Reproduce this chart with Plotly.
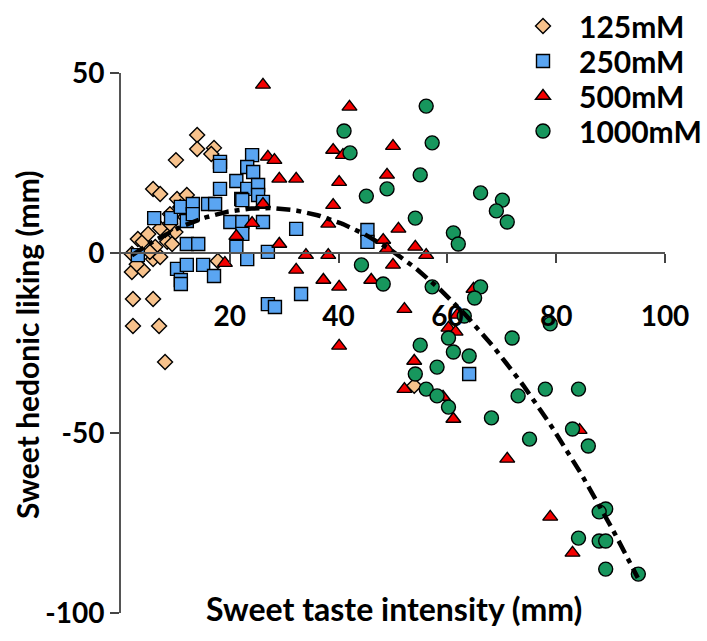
import numpy as np
import plotly.graph_objects as go

# ---- data ----
x_125 = [14.0, 14.0, 17.1, 10.1, 16.6, 5.9, 7.2, 10.3, 12.1, 10.9, 9.0, 11.8, 3.1, 4.0, 2.0, 2.0, 4.0,
         5.9, 7.2, 8.5, 9.4, 10.0, 8.1, 6.3, 2.2, 5.9, 2.2, 7.0, 8.1, 17.8, 53.9, 5.0, 7.2, 9.0, 5.3, 2.9]
y_125 = [32.8, 28.9, 29.2, 25.8, 27.5, 17.8, 16.4, 15.0, 16.1, 12.8, 10.8, 10.0, 3.9, 3.1, -0.3, -5.3, -4.7,
         -1.7, -1.1, 3.1, 2.5, 5.8, 6.4, 1.7, -12.8, -12.8, -20.3, -20.3, -30.3, -2.2, -36.9, 5.3, 6.9, 8.1, 0.3, -3.1]

x_250 = [3.1, 6.1, 9.2, 11.0, 12.1, 13.2, 16.0, 17.3, 12.1, 14.2, 10.3, 12.1, 11.0, 11.0, 15.1, 17.1,
         18.2, 18.2, 18.2, 21.2, 23.2, 22.1, 24.1, 23.2, 24.3, 25.2, 25.2, 22.3, 26.1, 20.1, 22.3, 22.3,
         26.1, 21.2, 23.2, 27.0, 32.2, 27.0, 28.3, 33.1, 45.3, 45.3, 64.0, 13.2]
y_250 = [-0.6, 9.7, 9.7, 12.8, 8.9, 13.6, 13.6, 13.6, 2.5, 2.5, -4.4, -3.3, -7.5, -8.6, -3.3, -6.4,
         25.3, 24.2, 17.8, 20.0, 17.8, 15.0, 27.2, 23.9, 22.5, 18.9, 16.1, 14.7, 14.2, 8.6, 8.6, 5.3,
         8.6, 1.7, -1.7, 0.3, 6.7, -14.2, -15.0, -11.4, 6.4, 3.1, -33.6, 10.8]

x_500 = [26.1, 27.0, 28.2, 29.1, 32.2, 26.1, 24.1, 21.2, 29.1, 34.0, 19.1, 32.2, 42.0, 39.0, 40.8, 50.0,
         40.1, 48.9, 39.0, 38.1, 51.0, 48.2, 48.9, 54.1, 56.1, 38.1, 50.0, 37.2, 40.1, 46.0, 52.1, 40.1,
         53.9, 52.1, 60.2, 61.5, 61.1, 59.2, 64.8, 61.8, 71.0, 84.3, 78.9, 83.0]
y_500 = [46.7, 26.7, 25.8, 20.6, 20.6, 13.6, 8.3, 4.7, 2.5, -0.6, -2.8, -4.7, 40.6, 28.6, 27.2, 29.7,
         19.7, 21.7, 13.3, 8.1, 6.7, 3.6, 1.1, 1.7, -0.6, -0.6, -3.3, -7.5, -9.4, -7.5, -15.6, -25.8,
         -30.0, -37.8, -20.8, -21.9, -46.1, -40.0, -10.0, -17.2, -57.2, -49.2, -73.3, -83.3]

x_1000 = [56.1, 57.2, 41.0, 42.1, 55.0, 48.9, 45.1, 54.1, 66.1, 70.1, 69.0, 71.0, 61.1, 62.0, 44.2, 48.2,
          57.2, 66.1, 65.0, 63.1, 60.2, 55.0, 61.1, 64.0, 58.1, 54.1, 56.1, 58.1, 60.2, 68.1, 78.9, 71.9,
          78.0, 84.1, 73.0, 83.0, 75.1, 85.9, 89.1, 87.9, 84.1, 87.9, 89.1, 89.1, 95.1]
y_1000 = [40.8, 30.6, 33.9, 27.8, 21.7, 17.8, 15.8, 9.7, 16.7, 14.7, 11.7, 8.6, 5.6, 2.5, -3.3, -8.6,
          -9.4, -9.4, -12.5, -17.5, -23.6, -25.6, -27.5, -28.6, -31.7, -33.6, -37.8, -39.7, -42.8, -45.8, -19.7, -23.6,
          -37.8, -37.8, -39.7, -48.9, -51.7, -53.6, -71.1, -71.9, -79.2, -80.0, -80.0, -87.8, -89.2]

# quadratic fit: y = a*x^2 + b*x + c
fit_coeffs = [-0.0219, 1.161, -2.88]
fit_x_range = [2.0, 95.0]

x_ticks = [20, 40, 60, 80, 100]
y_ticks = [-100, -50, 0, 50]
series_names = ["125mM", "250mM", "500mM", "1000mM"]

FONT = "Lato"
BOLD = dict(family=FONT, size=28, color="black", weight="bold")

# plot area in pixels (fixed margins)
L, R, T, B, W, H = 121, 42, 73, 28, 707, 641
PW, PH = W - L - R, H - T - B

fig = go.Figure()

styles = [
    ("diamond", 11.5, "#F7C28C"),
    ("square", 13, "#5AA5F2"),
    ("triangle-up", 13, "#F40000"),
    ("circle", 14, "#17965D"),
]
xs_all = [x_125, x_250, x_500, x_1000]
ys_all = [y_125, y_250, y_500, y_1000]
legend_ids = ["legend", "legend2", "legend3", "legend4"]
for name, xs, ys, (sym, size, col), lid in zip(series_names, xs_all, ys_all, styles, legend_ids):
    fig.add_trace(go.Scatter(
        x=xs, y=ys, mode="markers", name=name, legend=lid,
        marker=dict(symbol=sym, size=size, color=col, line=dict(color="black", width=1.4)),
        cliponaxis=False,
    ))

fx = np.linspace(fit_x_range[0], fit_x_range[1], 200)
fy = np.polyval(fit_coeffs, fx)
fig.add_trace(go.Scatter(
    x=fx, y=fy, mode="lines", showlegend=False,
    line=dict(color="black", width=4.5, dash="14px,6px,5px,6px"),
    cliponaxis=False,
))

legend_rows_px = [26, 61, 96, 131]
legend_left_px = 507
legends = {}
for lid, py in zip(legend_ids, legend_rows_px):
    legends[lid] = dict(
        x=(legend_left_px - L) / PW, y=1 + (T - py) / PH, xanchor="left", yanchor="middle",
        font=dict(family=FONT, size=30, color="black", weight="bold"),
        bgcolor="rgba(0,0,0,0)", itemwidth=62, borderwidth=0,
    )

fig.update_layout(
    width=W, height=H,
    margin=dict(l=L, r=R, t=T, b=B, autoexpand=False),
    paper_bgcolor="white", plot_bgcolor="white",
    showlegend=True,
    **legends,
    xaxis=dict(
        range=[0, 100], tickvals=x_ticks, ticktext=[str(v) for v in x_ticks],
        ticks="outside", ticklen=9, tickwidth=1.5, tickcolor="#444",
        showline=True, linecolor="#555", linewidth=2, showgrid=False, zeroline=False,
        anchor="free", position=2/3, tickfont=BOLD, ticklabelstandoff=29,
    ),
    yaxis=dict(
        range=[-100, 50], tickvals=y_ticks, ticktext=[str(v) for v in y_ticks],
        ticks="outside", ticklen=9, tickwidth=1.5, tickcolor="#444",
        showline=True, linecolor="#555", linewidth=2, showgrid=False, zeroline=False,
        tickfont=BOLD,
    ),
    annotations=[
        dict(text="Sweet taste intensity (mm)", x=(394 - L) / PW, y=0.009, xref="paper", yref="paper",
             xanchor="center", yanchor="middle", showarrow=False,
             font=dict(family=FONT, size=32, color="black", weight="bold")),
        dict(text="Sweet hedonic liking (mm)", x=(27 - L) / PW, y=(H - B - 345) / PH, xref="paper", yref="paper",
             xanchor="center", yanchor="middle", showarrow=False, textangle=-90,
             font=dict(family=FONT, size=30, color="black", weight="bold")),
    ],
)

fig.write_html("out.html")
